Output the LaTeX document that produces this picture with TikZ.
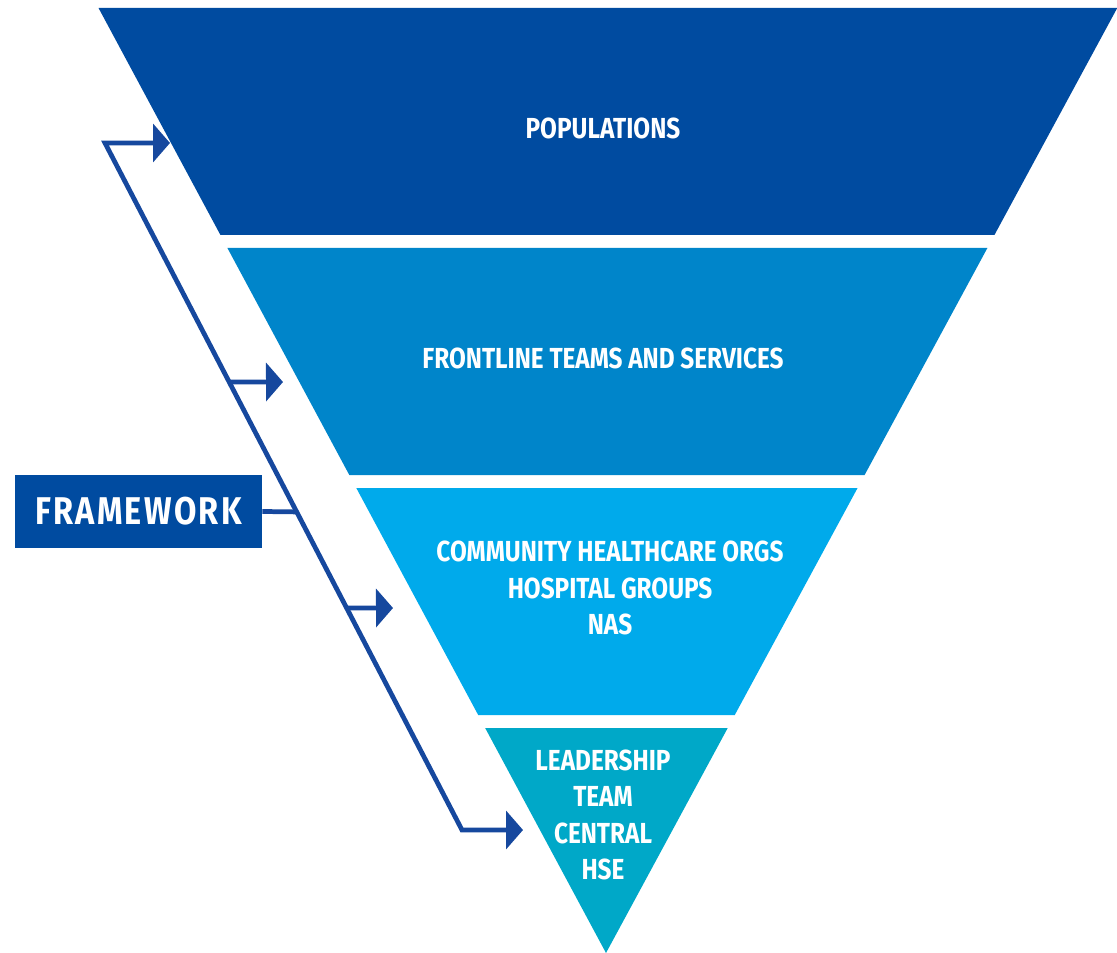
\documentclass[tikz,border=0pt]{standalone}
\usepackage{fontspec}
\setmainfont{Fira Sans}[FakeStretch=0.84]
\usetikzlibrary{arrows.meta}

\begin{document}
\begin{tikzpicture}[x=0.02cm, y=-0.02cm,
    %Option for the fat arrow heads
    >={Triangle[length=0.34cm, width=0.76cm]},
    line join=miter,
    tier/.style={fill=#1, draw=none},
    label/.style={text=white, align=center, inner sep=0pt,
        font=\bfseries\fontsize{16.5}{20.7}\selectfont},
    link/.style={draw=linkblue, line width=2.7pt},
]
    % Colors
    \definecolor{tier1}{RGB}{0,75,160}
    \definecolor{tier2}{RGB}{0,133,202}
    \definecolor{tier3}{RGB}{0,170,235}
    \definecolor{tier4}{RGB}{0,168,200}
    \definecolor{linkblue}{RGB}{22,72,158}

    \useasboundingbox (0,0) rectangle (1117,953);

    % Inverted pyramid, four bands split by white gaps
    \foreach \top/\bot/\col in {8/235/tier1, 248/475/tier2, 488/715/tier3, 728/953/tier4}
        \fill[tier=\col] ({606-0.537*(953-\top)},\top) -- ({606+0.541*(953-\top)},\top)
            -- ({606+0.541*(953-\bot)},\bot) -- ({606-0.537*(953-\bot)},\bot) -- cycle;

    % Band texts
    \node[label] (populations) at (603,128) {POPULATIONS};
    \node[label] (frontline)   at (603,358) {FRONTLINE TEAMS AND SERVICES};
    \node[label] (regional)    at (610,588) {COMMUNITY HEALTHCARE ORGS\\HOSPITAL GROUPS\\NAS};
    \node[label] (central)     at (603,815) {LEADERSHIP\\TEAM\\CENTRAL\\HSE};

    % Framework box
    \node[fill=tier1, text=white, minimum width=4.94cm, minimum height=1.46cm,
        font=\bfseries\fontsize{22}{26}\selectfont\addfontfeature{LetterSpace=6}]
        (framework) at (138.5,511.5) {FRAMEWORK};

    % Bracket joints and arrow tips
    \coordinate (j1) at (105,143);
    \coordinate (j2) at (462,830);
    \coordinate (t1) at (170,143);
    \coordinate (t2) at (283,382);
    \coordinate (t3) at (393,608);
    \coordinate (t4) at (523,830);
    \path (j1) -- (j2) coordinate[pos=0.348] (b2) coordinate[pos=0.537] (bf)
        coordinate[pos=0.677] (b3);

    \draw[link, <->] (t1) -- (j1) -- (j2) -- (t4);
    \draw[link, ->] (b2) -- (t2);
    \draw[link, ->] (b3) -- (t3);
    \draw[link] (framework.east) -- (bf);

\end{tikzpicture}
\end{document}
